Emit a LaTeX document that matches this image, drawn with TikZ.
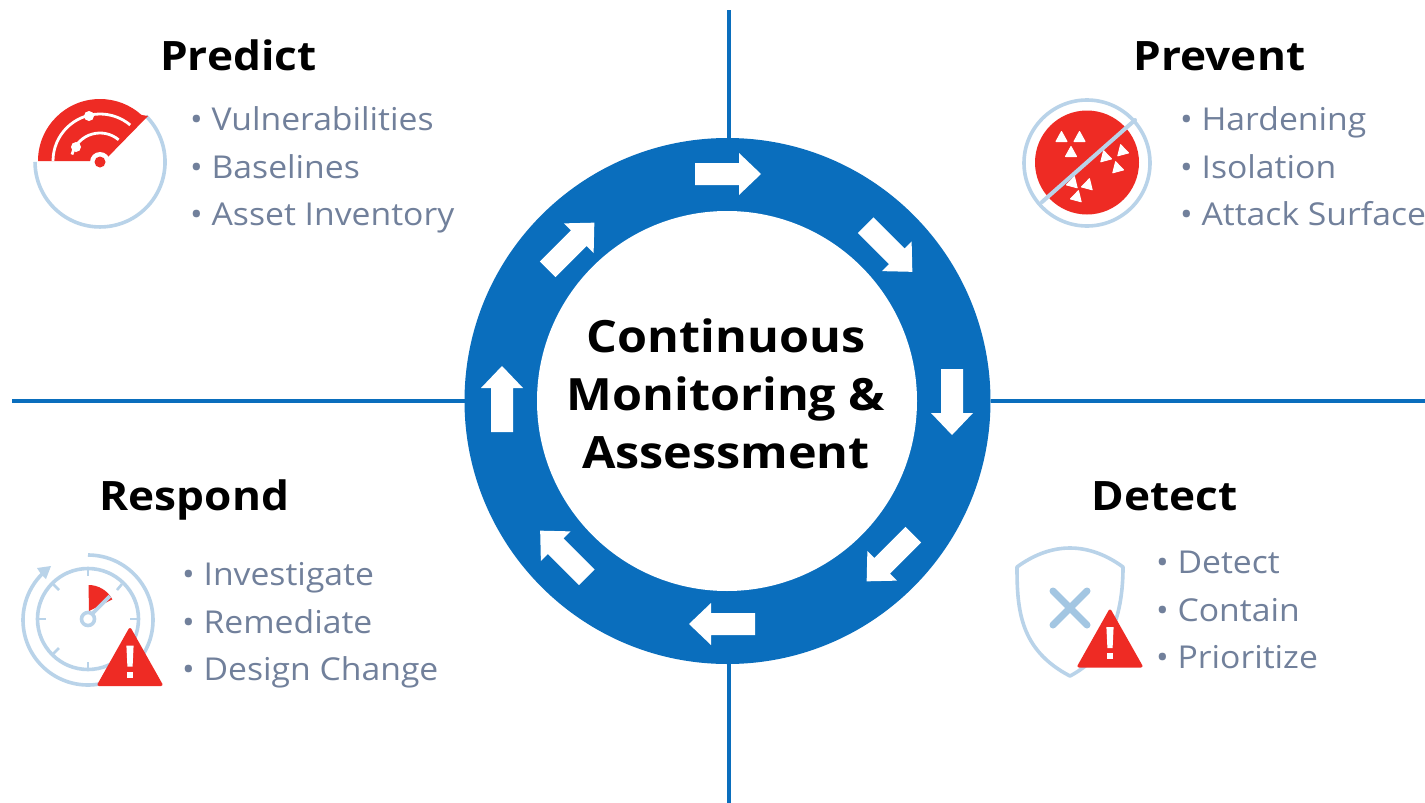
\documentclass[tikz,border=0pt]{standalone}
\usepackage{fontspec}
\setmainfont{Open Sans}
\newfontfamily\titlefont{Open Sans}[FakeStretch=1.09]
\newfontfamily\headfont{Open Sans}[FakeStretch=1.09]
\newfontfamily\itemfont{Open Sans}[FakeStretch=1.07]
\definecolor{ringblue}{HTML}{0A6EBD}
\definecolor{iconred}{HTML}{EE2B24}
\definecolor{iconblue}{HTML}{B9D3E9}
\definecolor{xblue}{HTML}{A3C6E2}
\definecolor{itemgray}{HTML}{71809B}
\tikzset{
  head/.style={font=\headfont\bfseries\fontsize{40.5}{40.5}\selectfont,text=black,anchor=base west,inner sep=0pt},
  item/.style={font=\itemfont\fontsize{31.5}{32}\selectfont,text=itemgray,anchor=base west,inner sep=0pt},
  axis/.style={draw=ringblue,line width=3.2pt},
  iconline/.style={draw=iconblue,line width=3.6pt},
  whitetri/.style={fill=white,draw=white,line width=1pt,line join=round},
  warntri/.style={fill=iconred,draw=iconred,line width=3pt,line join=round}
}
\newcommand{\ringarrow}[3]{%
  \fill[white,shift={(#1,#2)},rotate=#3]
    (-33,-11) -- (11,-11) -- (11,-21) -- (33,0) -- (11,21) -- (11,11) -- (-33,11) -- cycle;}
\newcommand{\warning}[2]{%
  \begin{scope}[shift={(#1,#2)}]
    \path[warntri] (0,-36) -- (-31,19) -- (31,19) -- cycle;
    \fill[white] (-3.6,-20) -- (3.6,-20) -- (2.6,1) -- (-2.6,1) -- cycle;
    \fill[white] (-3,6) rectangle (3,12);
  \end{scope}}
\begin{document}
\begin{tikzpicture}[x=1pt,y=-1pt]
\useasboundingbox (0,0) rectangle (1425,803);
\fill[white] (0,0) rectangle (1425,803);
% axes
\coordinate (axT) at (729,10);
\coordinate (axB) at (729,803);
\coordinate (axL) at (12,401);
\coordinate (axR) at (1425,401);
\node[circle,fill=ringblue,minimum size=526pt,inner sep=0pt,outer sep=0pt] (ring) at (727.5,401) {};
\draw[axis] (axT) -- (axT |- ring.north);
\draw[axis] (axB) -- (axB |- ring.south);
\draw[axis] (axL) -- (ring.west);
\draw[axis] (axR) -- (ring.east);
\ringarrow{728}{174}{0}
\ringarrow{889}{248.5}{-45}
\ringarrow{952}{402}{-90}
\ringarrow{890}{558}{-135}
\ringarrow{722}{624}{-180}
\ringarrow{563.5}{554}{-225}
\ringarrow{571}{246}{-315}
\ringarrow{502}{399}{-270}
\node[circle,fill=white,minimum size=380pt,inner sep=0pt] (centre) at (727,401) {};
\node[font=\titlefont\bfseries\fontsize{44.5}{58}\selectfont,align=center,text=black,inner sep=0pt] (title) at (726,394) {Continuous\\Monitoring \&\\Assessment};
% headings
\node[head] (hPredict) at (160,70.5) {Predict};
\node[head] (hPrevent) at (1133.5,70.5) {Prevent};
\node[head] (hRespond) at (99.5,510.5) {Respond};
\node[head] (hDetect) at (1091.5,510.5) {Detect};
% items
\node[item] (a1) at (190,130.5) {• Vulnerabilities};
\node[item] (a2) at (190,178.5) {• Baselines};
\node[item] (a3) at (190,225.5) {• Asset Inventory};
\node[item] (b1) at (1180,130.5) {• Hardening};
\node[item] (b2) at (1180,178.5) {• Isolation};
\node[item] (b3) at (1180,225.5) {• Attack Surface};
\node[item] (c1) at (182,585.5) {• Investigate};
\node[item] (c2) at (182,633.5) {• Remediate};
\node[item] (c3) at (182,680) {• Design Change};
\node[item] (d1) at (1156,573.5) {• Detect};
\node[item] (d2) at (1156,621.5) {• Contain};
\node[item] (d3) at (1156,668.5) {• Prioritize};
% radar icon: centre (100,162)
\draw[iconline] (146,116) arc[start angle=-45,end angle=180,radius=65];
\fill[iconred] (38,161) arc[start angle=180,end angle=312,radius=62] -- (148,116) -- (104,161) -- cycle;
\draw[white,line width=2.8pt] (53,161) arc[start angle=180,end angle=310,radius=47];
\draw[white,line width=2.8pt] (72,154.5) arc[start angle=195,end angle=310,radius=29];
\fill[white] (89,116) circle (5);
\fill[white] (76,147) circle (5);
\fill[white] (100,162) circle (10);
\fill[iconred] (100,162) circle (5.5);
% prevent icon
\draw[iconline] (1087,163) circle (63);
\fill[iconred] (1087,162.5) circle (52);
\foreach \x/\y/\r in {1061.5/137/0,1079.5/137/0,1071/152/0,1105/156/15,1122/150/15,1117/167/15,1073/182/-15,1088/184/-15,1077/196/-15}
  {\path[whitetri,shift={(\x,\y)},rotate=\r] (0,-5.5) -- (-5.5,4.5) -- (5.5,4.5) -- cycle;}
\draw[iconblue,line width=4pt,line cap=round] (1042,202) -- (1135,120);
% respond icon
\draw[iconline] (88,619) circle (50.5);
\draw[iconline] (88,555) arc[start angle=-90,end angle=231,radius=65];
\fill[iconblue] (51,566) -- (37,568) -- (41,574) -- (46,579) -- cycle;
\draw[iconline,line width=2.6pt] (88,569) -- (88,576);
\draw[iconline,line width=2.6pt] (88,662) -- (88,669);
\draw[iconline,line width=2.6pt] (38,619) -- (46,619);
\draw[iconline,line width=2.6pt] (130,619) -- (138,619);
\draw[iconline,line width=2.6pt] (53,584) -- (59,590);
\draw[iconline,line width=2.6pt] (53,654) -- (59,648);
\draw[iconline,line width=2.6pt] (117,590) -- (122,584);
\fill[iconred] (88.5,585) arc[start angle=-90,end angle=-28,radius=27] -- (89,611) -- cycle;
\draw[iconline] (92,614) -- (110,596);
\draw[iconline,fill=white] (88,619) circle (6.5);
\warning{130}{665.5}
% detect icon
\draw[iconline,line join=round] (1070,548) .. controls (1050,548) and (1032,556) .. (1017,567) .. controls (1017,610) and (1020,650) .. (1070,676) .. controls (1100,660) and (1123,630) .. (1123,567) .. controls (1108,556) and (1090,548) .. (1070,548) -- cycle;
\draw[xblue,line width=7pt,line cap=round] (1053,591) -- (1087,625);
\draw[xblue,line width=7pt,line cap=round] (1087,591) -- (1053,625);
\warning{1110}{647}
\end{tikzpicture}
\end{document}
